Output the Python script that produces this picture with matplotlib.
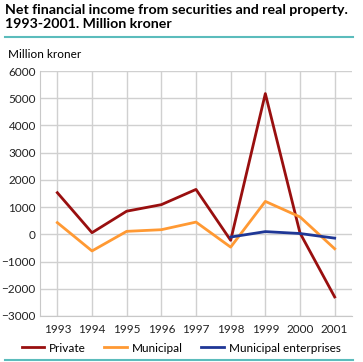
import numpy as np
import matplotlib.pyplot as plt
from matplotlib.lines import Line2D

plt.rcParams['font.family'] = ['Lato', 'DejaVu Sans']

years = [1993, 1994, 1995, 1996, 1997, 1998, 1999, 2000, 2001]
private = [1530, 60, 850, 1090, 1650, -220, 5170, 50, -2300]
municipal = [430, -610, 110, 170, 450, -470, 1210, 640, -530]
ent_years = [1998, 1999, 2000, 2001]
enterprises = [-100, 100, 30, -140]
yticks = list(range(-3000, 6001, 1000))

W, H = 363, 362
fig = plt.figure(figsize=(W / 100, H / 100), dpi=100)
ax = fig.add_axes([40 / W, 1 - 316 / H, 312 / W, 245 / H])

ax.plot(years, private, color='#990f0f', lw=2, label='Private')
ax.plot(years, municipal, color='#ff9933', lw=2, label='Municipal')
ax.plot(ent_years, enterprises, color='#1f3796', lw=2, label='Municipal enterprises')

ax.set_xlim(1992.5, 2001.5)
ax.set_ylim(-3000, 6000)
ax.set_xticks(years)
ax.set_yticks(yticks)
ax.grid(True, color='#d0d0d0', lw=1)
ax.set_axisbelow(True)
for s in ['top', 'right']:
    ax.spines[s].set_visible(False)
for s in ['left', 'bottom']:
    ax.spines[s].set_color('#c8c8c8')
ax.tick_params(length=0, labelsize=8.5, colors='#222222', pad=3)
ax.tick_params(axis='x', pad=6)

fig.text(5 / W, 1 - 4 / H, 'Net financial income from securities and real property.\n1993-2001. Million kroner',
         fontsize=10.2, fontweight='bold', va='top', ha='left', linespacing=1.2)
fig.add_artist(Line2D([5 / W, 353 / W], [1 - 37 / H, 1 - 37 / H], color='#5bbcbc', lw=1.5))
fig.add_artist(Line2D([5 / W, 353 / W], [1 - 360 / H, 1 - 360 / H], color='#5bbcbc', lw=1.5))
fig.text(8 / W, 1 - 55 / H, 'Million kroner', fontsize=8.5, va='center', ha='left')

fig.legend(loc='center', bbox_to_anchor=(181 / W, 1 - 348 / H), ncol=3, frameon=False,
           fontsize=8.5, handlelength=1.9, columnspacing=1.6, handletextpad=0.4)

fig.savefig('out.png', dpi=100)
